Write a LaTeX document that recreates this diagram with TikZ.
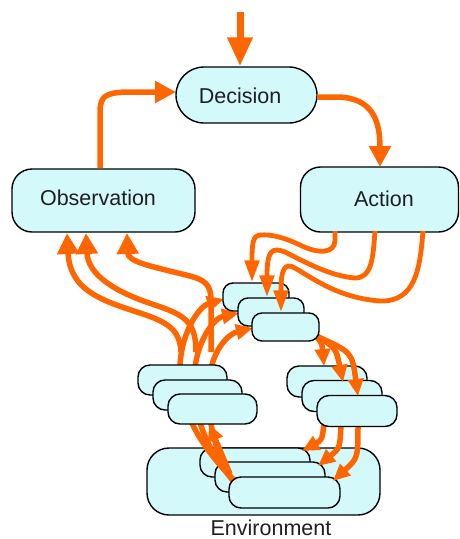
\documentclass[tikz,border=0pt]{standalone}
\usepackage{fontspec}
\setmainfont{Liberation Sans}
\usetikzlibrary{arrows.meta}
\definecolor{org}{RGB}{255,102,0}
\definecolor{boxfill}{RGB}{212,249,251}
\begin{document}
\begin{tikzpicture}[x=1pt,y=-1pt,
  box/.style={draw=black, line width=1.4pt, fill=boxfill, rounded corners=#1, inner sep=0pt},
  box/.default=11pt,
  lbl/.style={font=\fontsize{21.5pt}{24pt}\selectfont, text=black!88, inner sep=0pt},
  oa/.style={draw=org, line width=5.5pt, -{Triangle[length=21pt,width=21pt]}},
  os/.style={draw=org, line width=5.5pt, -{Triangle[length=17pt,width=15pt]}},
  ot/.style={draw=org, line width=4.8pt, -{Triangle[length=22pt,width=14pt]}}]
\useasboundingbox (0,0) rectangle (460,539);

% main boxes
\node[box=28pt, minimum width=141pt, minimum height=56pt] (dec) at (246.5,95) {};
\node[lbl] (dect) at (240,96) {Decision};
\node[box=20pt, minimum width=183pt, minimum height=63pt] (obs) at (103.5,200.5) {};
\node[lbl] (obst) at (98,198) {Observation};
\node[box=20pt, minimum width=158pt, minimum height=65pt] (act) at (379.5,199.5) {};
\node[lbl] (actt) at (384,199) {Action};

% input arrow
\coordinate (in) at (240,12);
\draw[draw=org, line width=7pt, -{Triangle[length=29pt,width=24pt]}] (in) -- (in |- dec.north);

% observation -> decision
\draw[oa] (100,168) -- (100,112) .. controls (100,96) and (106,93) .. (125,92) -- (176,92);
% decision -> action
\draw[oa] (317,97) -- (338,97) .. controls (372,98) and (380,120) .. (380,167);

% environment and bottom stack
\node[box=22pt, minimum width=233pt, minimum height=67pt] (env) at (263.5,481.5) {};
\node[lbl] (envt) at (271,528) {Environment};
\node[box=12pt, minimum width=110pt, minimum height=29pt] (B1) at (255,462.5) {};
\node[box=12pt, minimum width=110pt, minimum height=30pt] (B2) at (270,477) {};

% tip coordinates at the top stack
\coordinate (T1w) at (224,299);
\coordinate (T2w) at (239,313);
\coordinate (T3w) at (253,328);

% left arcs (bottom -> top, through the left stack)
\draw[os] (238,484) .. controls (205,452) and (177,412) .. (180,365) .. controls (182,330) and (200,306) .. (T1w);
\draw[os] (238,486) .. controls (212,458) and (190,420) .. (195,368) .. controls (198,340) and (214,318) .. (T2w);
\draw[os] (238,488) .. controls (218,462) and (205,425) .. (210,375) .. controls (213,350) and (228,334) .. (T3w);
\draw[os] (230,474) -- (209,424);

% arrows to observation
\draw[oa] (181,352) .. controls (180,330) and (168,322) .. (140,313) .. controls (100,300) and (70,290) .. (67,233);
\draw[oa] (196,352) .. controls (196,322) and (185,315) .. (155,305) .. controls (115,292) and (88,275) .. (86,233);
\draw[oa] (211,352) -- (211,300) .. controls (211,285) and (205,280) .. (190,276) .. controls (150,266) and (128,262) .. (127,233);

\node[box=12pt, minimum width=111pt, minimum height=31pt] (B3) at (284.5,492.5) {};

% left stack
\node[box=12pt, minimum width=89pt, minimum height=30pt] (L1) at (182.5,380) {};
\node[box=12pt, minimum width=89pt, minimum height=30pt] (L2) at (197.5,395) {};
\node[box=12pt, minimum width=89pt, minimum height=30pt] (L3) at (212.5,409) {};

% right stack -> bottom stack
\draw[os] (324,424) .. controls (322,440) .. (302,451);
\draw[os] (341,424) .. controls (340,448) .. (318,466);
\draw[os] (358,424) .. controls (358,458) .. (333,481);

% right stack
\node[box=12pt, minimum width=80pt, minimum height=31pt] (R1) at (327,381.5) {};
\node[box=12pt, minimum width=80pt, minimum height=31pt] (R2) at (342,396) {};
\node[box=12pt, minimum width=80pt, minimum height=31pt] (R3) at (357,411) {};

% top stack -> right stack
\draw[os] (312,332) .. controls (322,343) .. (324,366);
\draw[os] (314,334) .. controls (336,348) .. (343,382);
\draw[os] (316,336) .. controls (352,352) .. (358,396);

% top stack
\node[box=10pt, minimum width=66pt, minimum height=28pt] (T1) at (256,297) {};
\node[box=10pt, minimum width=66pt, minimum height=28pt] (T2) at (271,312) {};
\node[box=10pt, minimum width=67pt, minimum height=28pt] (T3) at (285.5,327) {};

% action -> top stack
\draw[ot] (335,231) -- (335,240) .. controls (335,254) and (318,254) .. (300,245) .. controls (285,238) and (272,234) .. (260,235) .. controls (253,236) and (252,242) .. (T1.north -| 252,0);
\draw[ot] (375,231) .. controls (373,258) and (372,278) .. (355,278) .. controls (330,276) and (305,262) .. (285,252) .. controls (272,247) and (267,250) .. (T2.north -| 267,0);
\draw[ot] (423,231) .. controls (420,270) and (415,302) .. (380,301) .. controls (340,298) and (315,280) .. (295,268) .. controls (284,262) and (281,270) .. (T3.north -| 281,0);
\end{tikzpicture}
\end{document}
